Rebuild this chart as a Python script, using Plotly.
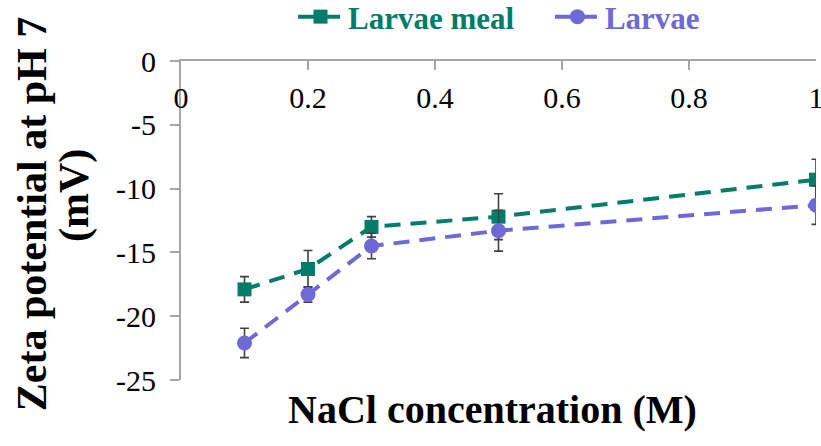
import plotly.graph_objects as go

# Data
nacl = [0.1, 0.2, 0.3, 0.5, 1.0]
meal = [-17.9, -16.3, -13.0, -12.2, -9.3]
meal_err = [1.0, 1.45, 0.8, 1.8, 1.6]
larvae = [-22.1, -18.3, -14.5, -13.3, -11.3]
larvae_err = [1.15, 0.6, 1.0, 1.6, 1.5]

x_ticks = [0, 0.2, 0.4, 0.6, 0.8, 1]
x_tick_text = ["0", "0.2", "0.4", "0.6", "0.8", "1"]
y_ticks = [0, -5, -10, -15, -20, -25]
y_tick_text = ["0", "-5", "-10", "-15", "-20", "-25"]

TEAL = "#047C6A"
PURPLE = "#6E69D6"
AXIS = "#A6A6A6"
FONT = "Liberation Serif, Times New Roman, serif"

fig = go.Figure()
fig.add_trace(go.Scatter(
    x=nacl, y=meal, mode="lines+markers",
    name="<b>Larvae meal</b>", legend="legend",
    line=dict(color=TEAL, width=4, dash="16px,10px"),
    marker=dict(symbol="square", size=14, color=TEAL),
    error_y=dict(type="data", array=meal_err, visible=True,
                 color="#404040", thickness=1.6, width=4.5),
))
fig.add_trace(go.Scatter(
    x=nacl, y=larvae, mode="lines+markers",
    name="<b>Larvae</b>", legend="legend2",
    line=dict(color=PURPLE, width=4, dash="16px,10px"),
    marker=dict(symbol="circle", size=15, color=PURPLE),
    error_y=dict(type="data", array=larvae_err, visible=True,
                 color="#404040", thickness=1.6, width=4.5),
))

legend_common = dict(orientation="h", y=1.138, yanchor="middle", xanchor="left",
                     itemwidth=45, bgcolor="rgba(0,0,0,0)")

fig.update_layout(
    width=821, height=446,
    margin=dict(l=181, r=5, t=61, b=66, autoexpand=False),
    paper_bgcolor="white", plot_bgcolor="white",
    font=dict(family=FONT, color="black"),
    showlegend=True,
    legend=dict(x=0.1764, font=dict(family=FONT, size=31, color=TEAL), **legend_common),
    legend2=dict(x=0.581, font=dict(family=FONT, size=31, color=PURPLE), **legend_common),
    xaxis=dict(range=[0, 1], side="top", tickvals=x_ticks, ticktext=x_tick_text,
               ticks="inside", ticklen=9, tickcolor=AXIS, tickwidth=1.5,
               showline=True, linecolor=AXIS, linewidth=1.8,
               ticklabelposition="inside", ticklabeloverflow="allow",
               ticklabelstandoff=20, automargin=False,
               showgrid=False, zeroline=False,
               tickfont=dict(family=FONT, size=30, color="black")),
    yaxis=dict(range=[-25, 0], tickvals=y_ticks, ticktext=y_tick_text,
               ticks="outside", ticklen=9, tickcolor=AXIS, tickwidth=1.5,
               showline=True, linecolor=AXIS, linewidth=1.8,
               ticklabelstandoff=8,
               showgrid=False, zeroline=False, automargin=False,
               tickfont=dict(family=FONT, size=30, color="black")),
    annotations=[
        dict(text="<b>NaCl concentration (M)</b>", xref="paper", yref="paper",
             x=0.490, y=-0.094, xanchor="center", yanchor="middle", showarrow=False,
             font=dict(family=FONT, size=40, color="black")),
        dict(text="<b>Zeta potential at pH 7</b>", xref="paper", yref="paper",
             x=-0.2346, y=0.52, xanchor="center", yanchor="middle", showarrow=False,
             textangle=-90, font=dict(family=FONT, size=42, color="black")),
        dict(text="<b>(mV)</b>", xref="paper", yref="paper",
             x=-0.1669, y=0.577, xanchor="center", yanchor="middle", showarrow=False,
             textangle=-90, font=dict(family=FONT, size=42, color="black")),
    ],
)

fig.write_html("out.html")
